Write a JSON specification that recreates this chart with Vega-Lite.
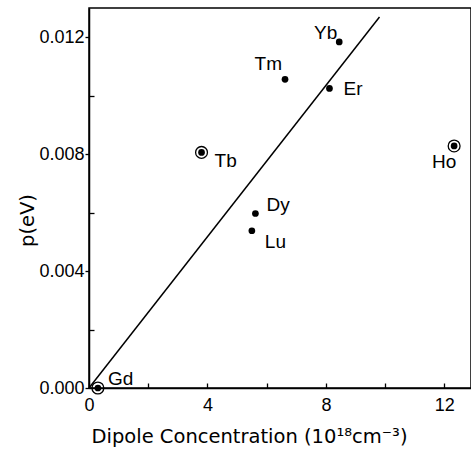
{
  "$schema": "https://vega.github.io/schema/vega-lite/v6.json",
  "autosize": "none",
  "padding": {"left": 89, "top": 8, "right": 0, "bottom": 68},
  "width": 382,
  "height": 380,
  "background": "white",
  "config": {
    "view": {"stroke": "black", "strokeWidth": 1.5},
    "font": "Liberation Sans",
    "axis": {"grid": false, "domainColor": "black", "domainWidth": 1.5, "tickColor": "black", "tickWidth": 1.3, "labelColor": "black", "titleColor": "black", "labelFont": "Liberation Sans", "titleFont": "DejaVu Sans", "labelFontSize": 18, "titleFontSize": 19.5, "titleFontWeight": "normal", "labelFlush": false}
  },
  "datasets": {
    "pts": [
      {"el": "Gd", "x": 0.3, "p": 0.0, "circled": true},
      {"el": "Tb", "x": 3.8, "p": 0.00806, "circled": true},
      {"el": "Lu", "x": 5.5, "p": 0.00538, "circled": false},
      {"el": "Dy", "x": 5.62, "p": 0.00597, "circled": false},
      {"el": "Tm", "x": 6.62, "p": 0.01056, "circled": false},
      {"el": "Er", "x": 8.12, "p": 0.01025, "circled": false},
      {"el": "Yb", "x": 8.45, "p": 0.01184, "circled": false},
      {"el": "Ho", "x": 12.33, "p": 0.00828, "circled": true}
    ],
    "fit": [
      {"x": 0, "p": 0},
      {"x": 9.81, "p": 0.01269}
    ]
  },
  "layer": [
    {
      "data": {"name": "fit"},
      "mark": {"type": "line", "color": "black", "strokeWidth": 1.5},
      "encoding": {
        "x": {"field": "x", "type": "quantitative",
          "scale": {"domain": [0, 12.9], "nice": false, "zero": false},
          "axis": {"values": [0, 2, 4, 6, 8, 10, 12], "labelExpr": "datum.value % 4 === 0 ? datum.label : ''", "tickSize": -5, "labelPadding": 13, "labelAngle": 0,
            "title": "Dipole Concentration (10¹⁸cm⁻³)", "titleX": 160, "titleAnchor": "middle", "titleAlign": "center", "titlePadding": 13}},
        "y": {"field": "p", "type": "quantitative",
          "scale": {"domain": [0, 0.013], "nice": false, "zero": false},
          "axis": {"values": [0, 0.002, 0.004, 0.006, 0.008, 0.010, 0.012],
            "labelExpr": "round(datum.value * 1000) % 4 === 0 ? format(datum.value, '.3f') : ''",
            "tickSize": {"condition": {"test": "round(datum.value * 1000) % 4 === 0", "value": 4}, "value": -5},
            "labelPadding": 1, "title": "p(eV)", "titlePadding": 1, "titleY": 212}}
      }
    },
    {
      "data": {"name": "pts"},
      "transform": [{"filter": "datum.circled"}],
      "mark": {"type": "point", "filled": false, "stroke": "black", "strokeWidth": 1.3, "size": 140, "opacity": 1},
      "encoding": {"x": {"field": "x", "type": "quantitative"}, "y": {"field": "p", "type": "quantitative"}}
    },
    {
      "data": {"name": "pts"},
      "mark": {"type": "point", "filled": true, "color": "black", "size": 45, "opacity": 1},
      "encoding": {"x": {"field": "x", "type": "quantitative"}, "y": {"field": "p", "type": "quantitative"}}
    },
    {"data": {"name": "pts"}, "transform": [{"filter": "datum.el === 'Gd'"}],
      "mark": {"type": "text", "fontSize": 19, "align": "left", "baseline": "alphabetic", "dx": 10, "dy": -3, "color": "black"},
      "encoding": {"x": {"field": "x", "type": "quantitative"}, "y": {"field": "p", "type": "quantitative"}, "text": {"field": "el"}}},
    {"data": {"name": "pts"}, "transform": [{"filter": "datum.el === 'Tb'"}],
      "mark": {"type": "text", "fontSize": 19, "align": "left", "baseline": "alphabetic", "dx": 13, "dy": 15, "color": "black"},
      "encoding": {"x": {"field": "x", "type": "quantitative"}, "y": {"field": "p", "type": "quantitative"}, "text": {"field": "el"}}},
    {"data": {"name": "pts"}, "transform": [{"filter": "datum.el === 'Tm'"}],
      "mark": {"type": "text", "fontSize": 19, "align": "right", "baseline": "alphabetic", "dx": -3, "dy": -9, "color": "black"},
      "encoding": {"x": {"field": "x", "type": "quantitative"}, "y": {"field": "p", "type": "quantitative"}, "text": {"field": "el"}}},
    {"data": {"name": "pts"}, "transform": [{"filter": "datum.el === 'Yb'"}],
      "mark": {"type": "text", "fontSize": 19, "align": "right", "baseline": "alphabetic", "dx": -2, "dy": -3, "color": "black"},
      "encoding": {"x": {"field": "x", "type": "quantitative"}, "y": {"field": "p", "type": "quantitative"}, "text": {"field": "el"}}},
    {"data": {"name": "pts"}, "transform": [{"filter": "datum.el === 'Er'"}],
      "mark": {"type": "text", "fontSize": 19, "align": "left", "baseline": "alphabetic", "dx": 14, "dy": 7, "color": "black"},
      "encoding": {"x": {"field": "x", "type": "quantitative"}, "y": {"field": "p", "type": "quantitative"}, "text": {"field": "el"}}},
    {"data": {"name": "pts"}, "transform": [{"filter": "datum.el === 'Ho'"}],
      "mark": {"type": "text", "fontSize": 19, "align": "center", "baseline": "alphabetic", "dx": -10, "dy": 22, "color": "black"},
      "encoding": {"x": {"field": "x", "type": "quantitative"}, "y": {"field": "p", "type": "quantitative"}, "text": {"field": "el"}}},
    {"data": {"name": "pts"}, "transform": [{"filter": "datum.el === 'Dy'"}],
      "mark": {"type": "text", "fontSize": 19, "align": "left", "baseline": "alphabetic", "dx": 11, "dy": -2, "color": "black"},
      "encoding": {"x": {"field": "x", "type": "quantitative"}, "y": {"field": "p", "type": "quantitative"}, "text": {"field": "el"}}},
    {"data": {"name": "pts"}, "transform": [{"filter": "datum.el === 'Lu'"}],
      "mark": {"type": "text", "fontSize": 19, "align": "left", "baseline": "alphabetic", "dx": 13, "dy": 17, "color": "black"},
      "encoding": {"x": {"field": "x", "type": "quantitative"}, "y": {"field": "p", "type": "quantitative"}, "text": {"field": "el"}}}
  ]
}
